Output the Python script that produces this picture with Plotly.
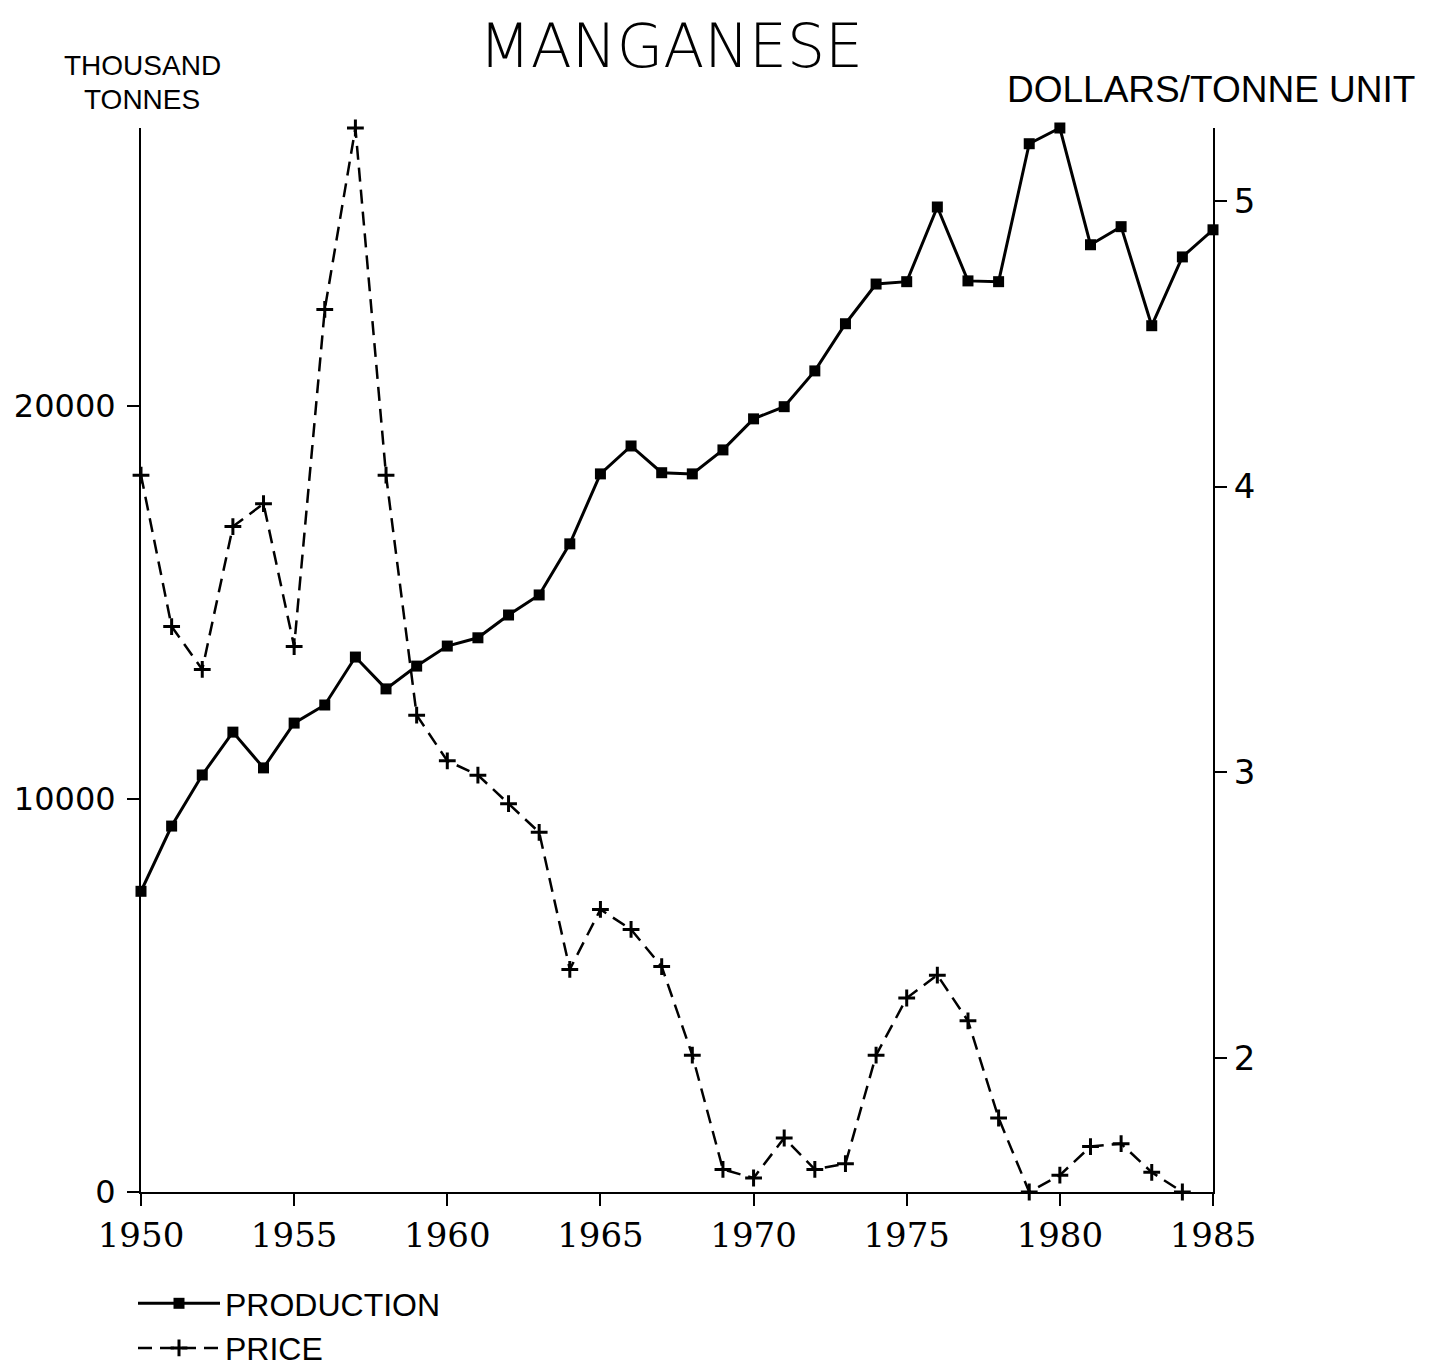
import plotly.graph_objects as go

years = list(range(1950, 1986))
production = [7650, 9310, 10610, 11700, 10790, 11930, 12390, 13610, 12800, 13380,
              13890, 14100, 14680, 15190, 16490, 18270, 18980, 18300, 18270, 18880,
              19670, 19980, 20890, 22090, 23100, 23160, 25060, 23180, 23160, 26670,
              27070, 24100, 24560, 22040, 23790, 24480]

price_years = list(range(1950, 1985))
price = [4.04, 3.51, 3.36, 3.86, 3.94, 3.44, 4.62, 5.255, 4.04, 3.20,
         3.04, 2.99, 2.89, 2.79, 2.31, 2.52, 2.45, 2.32, 2.01, 1.61,
         1.58, 1.72, 1.61, 1.63, 2.01, 2.21, 2.29, 2.13, 1.79, 1.531,
         1.59, 1.69, 1.70, 1.60, 1.531]

x_ticks = [1950, 1955, 1960, 1965, 1970, 1975, 1980, 1985]
left_ticks = [0, 10000, 20000]
left_labels = ["0", "10000", "20000"]
right_ticks = [2, 3, 4, 5]

# page offset (body margin) compensation
OFF = 7
W, H = 1435 - 8, 1369 - 8
PL, PR, PT, PB = 140, 1212, 127, 1191  # target plot box in screenshot px
ml = PL - OFF
mt = PT - OFF
mr = OFF + W - PR
mb = OFF + H - PB
pw = PR - PL
ph = PB - PT


def px(x):
    return (x - PL) / pw


def py(y):
    return (PB - y) / ph


fig = go.Figure()
fig.add_trace(go.Scatter(
    x=years, y=production, name="PRODUCTION", mode="lines+markers",
    line=dict(color="black", width=3),
    marker=dict(symbol="square", size=11, color="black"),
    cliponaxis=False, yaxis="y"))
fig.add_trace(go.Scatter(
    x=price_years, y=price, name="PRICE", mode="lines+markers",
    line=dict(color="black", width=2.5, dash="14px,8px"),
    marker=dict(symbol="cross-thin", size=12, color="black",
                line=dict(color="black", width=3)),
    cliponaxis=False, yaxis="y2"))

tick_font = dict(family="DejaVu Sans", size=34, color="black")
fig.update_layout(
    width=W, height=H,
    margin=dict(l=ml, r=mr, t=mt, b=mb, autoexpand=False),
    paper_bgcolor="white", plot_bgcolor="white",
    showlegend=True,
    legend=dict(x=px(132), y=py(1275), xanchor="left", yanchor="top",
                font=dict(family="Liberation Sans", size=32, color="black"),
                itemwidth=82, bgcolor="rgba(0,0,0,0)", tracegroupgap=0),
    xaxis=dict(range=[1950, 1985], tickvals=x_ticks, ticks="outside", ticklen=12,
               tickwidth=2, tickcolor="black", showline=True, linecolor="black",
               linewidth=2, showgrid=False, zeroline=False,
               tickfont=dict(family="DejaVu Serif", size=34, color="black")),
    yaxis=dict(range=[0, 27070], tickvals=left_ticks, ticktext=left_labels,
               ticks="outside", ticklen=12,
               tickwidth=2, tickcolor="black", showline=True, linecolor="black",
               linewidth=2, showgrid=False, zeroline=False, automargin=False,
               ticklabelstandoff=5, tickfont=dict(family="DejaVu Sans", size=32, color="black")),
    yaxis2=dict(range=[1.531, 5.255], tickvals=right_ticks, overlaying="y",
                side="right", ticks="outside", ticklen=12, tickwidth=2,
                tickcolor="black", showline=True, linecolor="black", linewidth=2,
                showgrid=False, zeroline=False, automargin=False, tickfont=tick_font),
    annotations=[
        dict(text="MANGANESE", xref="paper", yref="paper",
             x=px(670), y=py(45), xanchor="center", yanchor="middle",
             showarrow=False,
             font=dict(family="DejaVu Sans", size=60, color="black", weight=200)),
        dict(text="THOUSAND", xref="paper", yref="paper",
             x=px(141), y=py(65), xanchor="center", yanchor="middle",
             showarrow=False,
             font=dict(family="Liberation Sans", size=28, color="black")),
        dict(text="TONNES", xref="paper", yref="paper",
             x=px(141), y=py(98), xanchor="center", yanchor="middle",
             showarrow=False,
             font=dict(family="Liberation Sans", size=28, color="black")),
        dict(text="DOLLARS/TONNE UNIT", xref="paper", yref="paper",
             x=px(1210), y=py(88), xanchor="center", yanchor="middle",
             showarrow=False,
             font=dict(family="Liberation Sans", size=37, color="black")),
    ],
)

fig.write_html("out.html")
